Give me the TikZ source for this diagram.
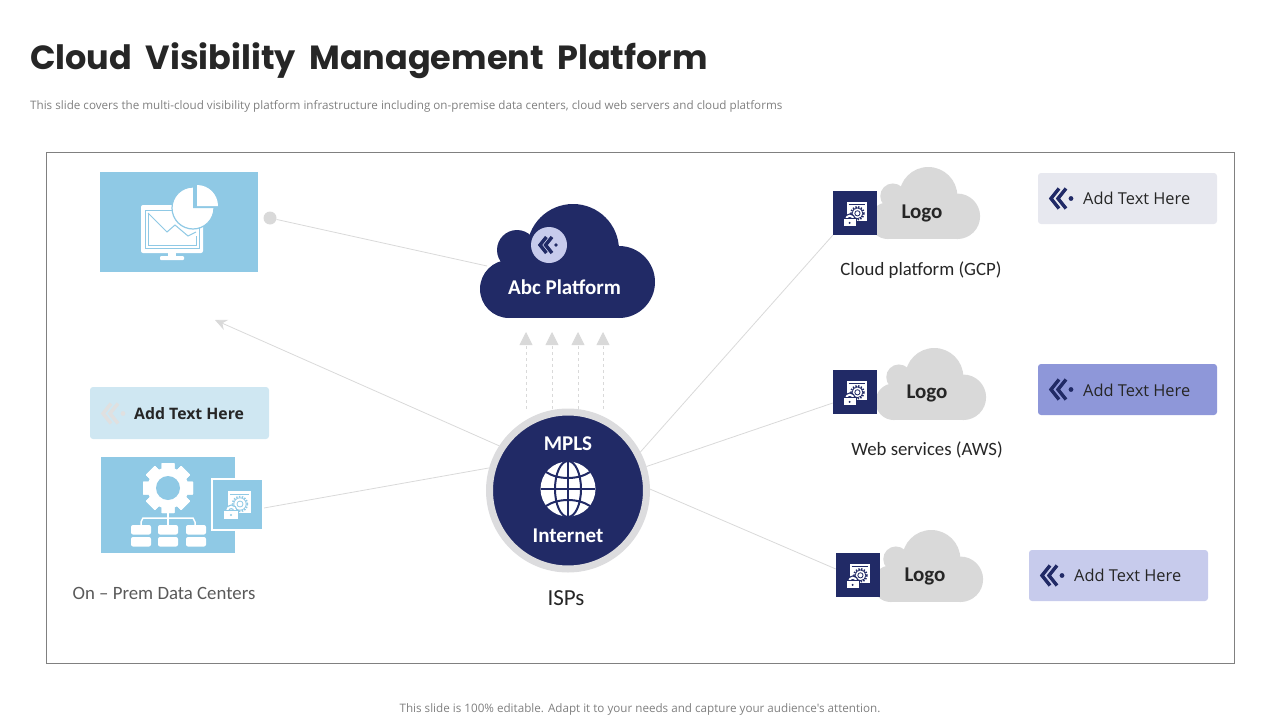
\documentclass[tikz,border=0pt]{standalone}
\usepackage{fontspec}
\setmainfont{Carlito}
\newfontfamily\titlefont[WordSpace=1.9]{Poppins}
\newfontfamily\notefont{Open Sans}
\usetikzlibrary{arrows.meta,backgrounds}
\definecolor{navy}{HTML}{212A66}
\definecolor{skyblue}{HTML}{8FC9E5}
\definecolor{linegray}{HTML}{D9D9D9}
\definecolor{cloudgray}{HTML}{D9D9D9}
\definecolor{ringgray}{HTML}{DCDCDE}
\definecolor{textdark}{HTML}{262626}
\definecolor{paleone}{HTML}{E7E8EF}
\definecolor{paletwo}{HTML}{8E97D9}
\definecolor{palethree}{HTML}{C7CBEC}
\definecolor{palefour}{HTML}{CFE7F2}
\tikzset{
  link/.style={draw=linegray,line width=0.8pt},
  uplink/.style={draw=linegray,line width=0.8pt,dashed,-{Triangle[width=13pt,length=13pt]}},
  textbox/.style={rounded corners=3pt,minimum width=179pt,minimum height=51pt,inner sep=0pt},
  boxtext/.style={font=\notefont\fontsize{16.4}{20}\selectfont,text=textdark,anchor=west,inner sep=0pt},
  logotext/.style={font=\bfseries\fontsize{21}{24}\selectfont,text=textdark,inner sep=0pt},
  labeltext/.style={font=\fontsize{18.8}{22}\selectfont,text=textdark,inner sep=0pt},
  whitetext/.style={font=\bfseries\fontsize{21}{24}\selectfont,text=white,inner sep=0pt},
  iconsquare/.style={fill=navy,minimum size=44pt,inner sep=0pt},
  pics/cloudshape/.style={code={
    \fill[#1] (37,46) circle (20);
    \fill[#1] (93,46) circle (46);
    \fill[#1] (139,78) circle (36);
    \fill[#1] (29,85) circle (29);
    \fill[#1] (29,62) rectangle (139,114);
    \fill[#1] (45,45) rectangle (130,70);
  }},
  pics/chevrons/.style={code={
    \draw[#1,line width=3.4pt,miter limit=10] (8,-10) -- (0,0) -- (8,10);
    \draw[#1,line width=3.4pt,miter limit=10] (15,-10) -- (7,0) -- (15,10);
    \fill[#1] (20,0) circle (2.4);
  }},
  pics/gearicon/.style={code={
    \foreach \a in {0,45,...,315}
      \fill[white,rotate=\a,rounded corners=0.5] (-2.6,-10) rectangle (2.6,10);
    \fill[white] (0,0) circle (8.2);
    \fill[#1] (0,0) circle (4.8);
  }},
  pics/windowicon/.style={code={
    \fill[white] (0,0) rectangle (23,22);
    \draw[#1,line width=0.5pt] (2,3) -- (21,3);
    \draw[#1,line width=1.6pt,dash pattern=on 1.4pt off 1.4pt] (12,13) circle (7.4);
    \draw[#1,line width=0.8pt] (12,13) circle (6.2);
    \draw[#1,line width=0.8pt] (12,13) circle (3);
    \draw[#1,line width=4.4pt] (-1,20) arc (180:360:4.2);
    \draw[white,line width=2pt] (-1,20) arc (180:360:4.2);
    \fill[#1] (-5.2,18.8) rectangle (11.2,29);
    \fill[white] (-4,20) rectangle (10,28);
    \fill[#1] (3,24) circle (1.2);
  }}
}
\begin{document}
\begin{tikzpicture}[x=1pt,y=-1pt]
  \useasboundingbox (0,0) rectangle (1280,720);

  % Title
  \node[anchor=west,inner sep=0pt,text=textdark] (title) at (30,61) {\titlefont\bfseries\fontsize{33.5}{40}\selectfont Cloud Visibility Management Platform};
  \node[anchor=west,inner sep=0pt,text=gray] (subtitle) at (30,106) {\notefont\fontsize{11.65}{14}\selectfont This slide covers the multi-cloud visibility platform infrastructure including on-premise data centers, cloud web servers and cloud platforms};
  \node[inner sep=0pt,text=gray] (footer) at (640,709) {\notefont\fontsize{11.65}{14}\selectfont This slide is 100\% editable. Adapt it to your needs and capture your audience's attention.};

  % Frame
  \node[draw=gray,line width=0.8pt,minimum width=1188pt,minimum height=511pt,inner sep=0pt] (frame) at (640.5,408) {};

  % Monitor box
  \node[fill=skyblue,minimum width=158pt,minimum height=100pt,inner sep=0pt] (monitorbox) at (179,222) {};
  \fill[white,rounded corners=2pt] (141,205) rectangle (203,253);
  \fill[white] (168,253) rectangle (176,257);
  \fill[white,rounded corners=1pt] (160,256) rectangle (184,260);
  \draw[skyblue,line width=1pt] (145,210) rectangle (199,248);
  \draw[skyblue,line width=1pt] (148,213) -- (148,245) -- (196,245) -- (196,236);
  \draw[skyblue,line width=1pt] (148,213) -- (167,232) -- (175,225) -- (188,236) -- (196,232);
  \fill[white,draw=skyblue,line width=1.2pt] (193,208) circle (21);
  \fill[skyblue] (193,208) -- (193,185) arc (-90:0:23) -- cycle;
  \fill[white] (197,185) arc (-90:0:21) -- (197,206) -- cycle;
  \node[circle,fill=cloudgray,minimum size=13pt,inner sep=0pt] (dot) at (270,218) {};

  % Left text box
  \node[textbox,fill=palefour,minimum height=52pt] (leftbox) at (179.5,413) {};
  \pic at (103,413.5) {chevrons={black!12}};
  \node[boxtext,font=\notefont\bfseries\fontsize{15.8}{20}\selectfont] (lefttext) at (134,414) {Add Text Here};

  % Data center box
  \node[fill=skyblue,minimum width=134pt,minimum height=96pt,inner sep=0pt] (databox) at (168,505) {};
  \pic at (168,488) [scale=2.5] {gearicon=skyblue};
  \draw[white,line width=1.5pt] (168,510) -- (168,525);
  \draw[white,line width=1.5pt] (141,525) -- (141,522) -- (143,518) -- (193,518) -- (195,522) -- (195,525);
  \foreach \px in {131,158,186}
    \foreach \py in {525,537}
      \fill[white,rounded corners=2pt] (\px,\py) rectangle +(20,9.5);
  \node[draw=white,fill=skyblue,line width=1.2pt,minimum size=51pt,inner sep=0pt] (serverbox) at (237.5,504.5) {};
  \pic at (228,491) {windowicon=skyblue};
  \node[labeltext,text=black!65] (onprem) at (164,593) {On -- Prem Data Centers};

  % Abc platform cloud
  \pic at (480,204) {cloudshape=navy};
  \node[circle,fill=palethree,minimum size=36pt,inner sep=0pt] (badge) at (549,245) {};
  \pic at (540,245) [scale=0.8] {chevrons=navy};
  \node[whitetext] (platform) at (564.5,287.5) {Abc Platform};
  \coordinate (platformin) at (487,266);

  % ISP hub
  \node[circle,fill=navy,draw=ringgray,line width=7pt,minimum size=157pt,inner sep=0pt] (hub) at (568,490.5) {};
  \fill[white] (568,489) circle (27.5);
  \draw[navy,line width=2pt] (568,461) -- (568,517);
  \draw[navy,line width=2pt] (541,489) -- (595,489);
  \draw[navy,line width=2pt] (568,489) ellipse (13 and 28);
  \draw[navy,line width=2pt] (546,472) .. controls (558,480) and (578,480) .. (590,472);
  \draw[navy,line width=2pt] (546,506) .. controls (558,498) and (578,498) .. (590,506);
  \node[whitetext] (mpls) at (568,444) {MPLS};
  \node[whitetext] (internet) at (568,536) {Internet};
  \node[labeltext,font=\fontsize{23}{26}\selectfont] (isps) at (566,598) {ISPs};

  % Logo clouds
  \pic at (869.5,167) [scale=0.632] {cloudshape=cloudgray};
  \pic at (875.5,348) [scale=0.632] {cloudshape=cloudgray};
  \pic at (872.5,530) [scale=0.632] {cloudshape=cloudgray};
  \node[iconsquare] (gcpsquare) at (855,213) {};
  \node[iconsquare] (awssquare) at (855,392) {};
  \node[iconsquare] (thirdsquare) at (858,575) {};
  \pic at (847,202) [scale=0.87] {windowicon=navy};
  \pic at (847,381) [scale=0.87] {windowicon=navy};
  \pic at (850,564) [scale=0.87] {windowicon=navy};
  \node[logotext] (gcplogo) at (922,213) {Logo};
  \node[logotext] (awslogo) at (927,393) {Logo};
  \node[logotext] (thirdlogo) at (925,576) {Logo};
  \node[labeltext] (gcplabel) at (921,270) {Cloud platform (GCP)};
  \node[labeltext] (awslabel) at (927,450) {Web services (AWS)};

  % Right text boxes
  \node[textbox,fill=paleone] (gcpbox) at (1127.5,198.5) {};
  \node[textbox,fill=paletwo] (awsbox) at (1127.5,389.5) {};
  \node[textbox,fill=palethree] (thirdbox) at (1118.5,575.5) {};
  \pic at (1051,198.5) {chevrons=navy};
  \pic at (1051,389.5) {chevrons=navy};
  \pic at (1042,575.5) {chevrons=navy};
  \node[boxtext] (gcptext) at (1083,198.5) {Add Text Here};
  \node[boxtext] (awstext) at (1083,390) {Add Text Here};
  \node[boxtext] (thirdtext) at (1074,575.5) {Add Text Here};

  % Links
  \coordinate (arrowend) at (215,320);
  \coordinate (serverout) at (264,508);
  \coordinate (up1) at (526,332);
  \coordinate (up2) at (552,332);
  \coordinate (up3) at (578,332);
  \coordinate (up4) at (603,332);
  \begin{scope}[on background layer]
    \draw[link] (dot) -- (platformin);
    \draw[link,-{Stealth[length=12pt,width=11pt,inset=4pt]}] (hub.147) -- (arrowend);
    \draw[link] (hub.164) -- (serverout);
    \draw[link] (hub.28) -- (gcpsquare.south west);
    \draw[link] (hub.17) -- (awssquare.west |- 0,403);
    \draw[link] (hub.1) -- (thirdsquare.west |- 0,569);
    \foreach \u in {up1,up2,up3,up4}
      \draw[uplink] (\u |- hub.north) -- (\u);
  \end{scope}
\end{tikzpicture}
\end{document}
